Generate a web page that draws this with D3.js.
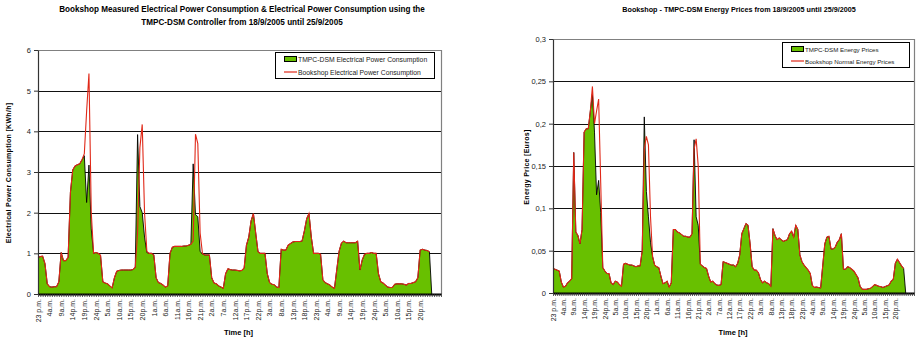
<!DOCTYPE html>
<html>
<head>
<meta charset="utf-8">
<script src="https://cdn.jsdelivr.net/npm/d3@7"></script>
<style>
  body { margin: 0; background: #fff; }
  svg { display: block; font-family: "Liberation Sans", Arial, sans-serif; }
</style>
</head>
<body>
<div id="chart"></div>
<script>
// hour labels (every 5th hour)
var hourLabels = ["23 p.m.", "4a.m.", "9a.m.", "14p.m.", "19p.m.", "24p.m.", "5a.m.", "10a.m.", "15p.m.", "20p.m.",
  "1a.m.", "6a.m.", "11a.m.", "16p.m.", "21p.m.", "2a.m.", "7a.m.", "12a.m.", "17p.m.", "22p.m.",
  "3a.m.", "8a.m.", "13p.m.", "18p.m.", "23p.m.", "4a.m.", "9a.m.", "14p.m.", "19p.m.", "24p.m.",
  "5a.m.", "10a.m.", "15p.m.", "20p.m."]

// Power consumption [KWh/h]
var tmpcPower = [0.9, 0.92, 0.93, 0.75, 0.25, 0.18, 0.17, 0.18, 0.18, 0.3,
  1.02, 0.82, 0.82, 0.9, 2.5, 3.05, 3.15, 3.18, 3.2, 3.3,
  3.4, 2.25, 3.17, 1.6, 1.0, 1.02, 1.0, 0.95, 0.3, 0.27,
  0.25, 0.2, 0.15, 0.4, 0.56, 0.58, 0.59, 0.59, 0.59, 0.59,
  0.59, 0.6, 0.66, 3.92, 2.15, 2.0, 1.4, 1.02, 1.0, 1.0,
  0.96, 0.4, 0.28, 0.26, 0.22, 0.17, 0.2, 1.0, 1.15, 1.17,
  1.17, 1.17, 1.17, 1.18, 1.18, 1.2, 1.22, 3.2, 1.95, 1.9,
  1.05, 0.98, 0.96, 0.96, 0.96, 0.4, 0.27, 0.25, 0.2, 0.17,
  0.14, 0.5, 0.62, 0.6, 0.59, 0.59, 0.58, 0.57, 0.58, 0.64,
  1.2, 1.4, 1.8, 1.98, 1.5, 1.04, 1.0, 1.0, 1.0, 0.5,
  0.28, 0.24, 0.23, 0.17, 0.16, 1.1, 1.08, 1.08, 1.2, 1.24,
  1.28, 1.29, 1.29, 1.29, 1.3, 1.55, 1.85, 1.98, 1.4, 1.0,
  1.0, 1.0, 0.98, 0.35, 0.28, 0.25, 0.22, 0.17, 0.14, 0.6,
  1.05, 1.25, 1.3, 1.26, 1.26, 1.26, 1.26, 1.26, 1.3, 0.59,
  0.84, 0.98, 1.0, 1.0, 1.02, 1.0, 1.0, 0.5, 0.3, 0.27,
  0.22, 0.17, 0.16, 0.16, 0.24, 0.25, 0.25, 0.25, 0.24, 0.22,
  0.26, 0.26, 0.28, 0.3, 0.4, 1.08, 1.1, 1.08, 1.07, 1.04,
  0]
var bookshopPower = [0.9, 0.92, 0.93, 0.75, 0.25, 0.18, 0.17, 0.18, 0.18, 0.3,
  1.02, 0.82, 0.82, 0.9, 2.5, 3.05, 3.15, 3.18, 3.2, 3.3,
  3.45, 4.5, 5.42, 2.0, 1.0, 1.02, 1.0, 0.95, 0.3, 0.27,
  0.25, 0.2, 0.15, 0.4, 0.56, 0.58, 0.59, 0.59, 0.59, 0.59,
  0.59, 0.6, 0.66, 1.5, 3.6, 4.17, 2.0, 1.05, 1.0, 1.0,
  0.96, 0.4, 0.28, 0.26, 0.22, 0.17, 0.2, 1.0, 1.15, 1.17,
  1.17, 1.17, 1.17, 1.18, 1.18, 1.2, 1.22, 1.3, 3.93, 3.7,
  1.5, 1.0, 0.96, 0.96, 0.96, 0.4, 0.27, 0.25, 0.2, 0.17,
  0.14, 0.5, 0.62, 0.6, 0.59, 0.59, 0.58, 0.57, 0.58, 0.64,
  1.2, 1.4, 1.8, 1.98, 1.5, 1.04, 1.0, 1.0, 1.0, 0.5,
  0.28, 0.24, 0.23, 0.17, 0.16, 1.1, 1.08, 1.08, 1.2, 1.24,
  1.28, 1.29, 1.29, 1.29, 1.3, 1.55, 1.85, 1.98, 1.4, 1.0,
  1.0, 1.0, 0.98, 0.35, 0.28, 0.25, 0.22, 0.17, 0.14, 0.6,
  1.05, 1.25, 1.3, 1.26, 1.26, 1.26, 1.26, 1.26, 1.3, 0.59,
  0.84, 0.98, 1.0, 1.0, 1.02, 1.0, 1.0, 0.5, 0.3, 0.27,
  0.22, 0.17, 0.16, 0.16, 0.24, 0.25, 0.25, 0.25, 0.24, 0.22,
  0.26, 0.26, 0.28, 0.3, 0.4, 1.08, 1.1, 1.08, 1.07, 1.04]

// Energy prices [Euros]
var tmpcPrice = [0.029, 0.028, 0.027, 0.026, 0.013, 0.007, 0.008, 0.012, 0.014, 0.017,
  0.166, 0.072, 0.068, 0.058, 0.075, 0.19, 0.194, 0.194, 0.215, 0.235,
  0.19, 0.116, 0.133, 0.095, 0.03, 0.026, 0.023, 0.023, 0.012, 0.01,
  0.014, 0.013, 0.01, 0.008, 0.034, 0.035, 0.034, 0.033, 0.033, 0.032,
  0.031, 0.032, 0.032, 0.05, 0.208, 0.12, 0.09, 0.06, 0.043, 0.033,
  0.031, 0.03, 0.02, 0.011, 0.012, 0.014, 0.007, 0.012, 0.075, 0.075,
  0.072, 0.071, 0.069, 0.067, 0.067, 0.066, 0.066, 0.07, 0.181, 0.09,
  0.08, 0.034, 0.032, 0.03, 0.029, 0.02, 0.013, 0.014, 0.011, 0.0095,
  0.009, 0.01, 0.037, 0.036, 0.035, 0.034, 0.033, 0.033, 0.031, 0.035,
  0.045, 0.07, 0.076, 0.082, 0.08, 0.058, 0.031, 0.027, 0.027, 0.024,
  0.016, 0.012, 0.014, 0.012, 0.011, 0.008, 0.076, 0.068, 0.063, 0.065,
  0.063, 0.061, 0.062, 0.063, 0.07, 0.073, 0.066, 0.08, 0.075, 0.045,
  0.037, 0.033, 0.03, 0.027, 0.023, 0.009, 0.0066, 0.007, 0.0064, 0.006,
  0.032, 0.058, 0.066, 0.067, 0.052, 0.052, 0.054, 0.06, 0.063, 0.07,
  0.028, 0.028, 0.031, 0.03, 0.028, 0.026, 0.022, 0.018, 0.008, 0.0045,
  0.0043, 0.0043, 0.005, 0.0055, 0.0075, 0.0098, 0.009, 0.008, 0.0075, 0.0065,
  0.0075, 0.0085, 0.0095, 0.014, 0.016, 0.035, 0.04, 0.036, 0.032, 0.029,
  0]
var bookshopPrice = [0.029, 0.028, 0.027, 0.026, 0.013, 0.007, 0.008, 0.012, 0.014, 0.017,
  0.166, 0.072, 0.068, 0.058, 0.075, 0.19, 0.194, 0.194, 0.215, 0.244,
  0.2, 0.215, 0.229, 0.13, 0.03, 0.026, 0.023, 0.023, 0.012, 0.01,
  0.014, 0.013, 0.01, 0.008, 0.034, 0.035, 0.034, 0.033, 0.033, 0.032,
  0.031, 0.032, 0.032, 0.05, 0.17, 0.185, 0.175, 0.09, 0.043, 0.033,
  0.031, 0.03, 0.02, 0.011, 0.012, 0.014, 0.007, 0.012, 0.075, 0.075,
  0.072, 0.071, 0.069, 0.067, 0.067, 0.066, 0.066, 0.07, 0.17, 0.182,
  0.15, 0.034, 0.032, 0.03, 0.029, 0.02, 0.013, 0.014, 0.011, 0.0095,
  0.009, 0.01, 0.037, 0.036, 0.035, 0.034, 0.033, 0.033, 0.031, 0.035,
  0.045, 0.07, 0.076, 0.082, 0.08, 0.058, 0.031, 0.027, 0.027, 0.024,
  0.016, 0.012, 0.014, 0.012, 0.011, 0.008, 0.076, 0.068, 0.063, 0.065,
  0.063, 0.061, 0.062, 0.063, 0.07, 0.073, 0.066, 0.08, 0.075, 0.045,
  0.037, 0.033, 0.03, 0.027, 0.023, 0.009, 0.0066, 0.007, 0.0064, 0.006,
  0.032, 0.058, 0.066, 0.067, 0.052, 0.052, 0.054, 0.06, 0.063, 0.07,
  0.028, 0.028, 0.031, 0.03, 0.028, 0.026, 0.022, 0.018, 0.008, 0.0045,
  0.0043, 0.0043, 0.005, 0.0055, 0.0075, 0.0098, 0.009, 0.008, 0.0075, 0.0065,
  0.0075, 0.0085, 0.0095, 0.014, 0.016, 0.035, 0.04, 0.036, 0.032, 0.029]

var powerTicks = [0, 1, 2, 3, 4, 5, 6]
var powerTickLabels = ["0", "1", "2", "3", "4", "5", "6"]
var priceTicks = [0, 0.05, 0.1, 0.15, 0.2, 0.25, 0.3]
var priceTickLabels = ["0", "0,05", "0,1", "0,15", "0,2", "0,25", "0,3"]

var nCategories = 174
var green = "#68c000"
var red = "#e02818"

var svg = d3.select("#chart").append("svg")
  .attr("width", 916)
  .attr("height", 341)

function drawChart(cfg) {
  var g = svg.append("g")

  var x = d3.scaleLinear().domain([0, nCategories]).range([cfg.left, cfg.right])
  var y = d3.scaleLinear().domain([0, cfg.ticks[cfg.ticks.length - 1]]).range([cfg.bottom, cfg.top])

  // titles
  g.selectAll(".title").data(cfg.title).enter().append("text")
    .attr("x", cfg.titleX)
    .attr("y", function(d, i) { return cfg.titleY + i * 12.5 })
    .attr("text-anchor", "middle")
    .style("font-size", cfg.titleSize + "px")
    .style("font-weight", "bold")
    .text(function(d) { return d })

  // grid lines
  g.selectAll(".grid").data(cfg.ticks.slice(1, -1)).enter().append("line")
    .attr("x1", cfg.left).attr("x2", cfg.right)
    .attr("y1", function(d) { return Math.round(y(d)) + 0.5 })
    .attr("y2", function(d) { return Math.round(y(d)) + 0.5 })
    .attr("stroke", "#111")
    .attr("stroke-width", 1)

  // plot border (top / right)
  g.append("path")
    .attr("d", "M" + cfg.left + "," + (cfg.top + 0.5) + "H" + (cfg.right + 0.5) + "V" + cfg.bottom)
    .attr("fill", "none")
    .attr("stroke", "#808080")
    .attr("stroke-width", 1.2)

  // green area
  var area = d3.area()
    .x(function(d, i) { return x(i) })
    .y0(y(0))
    .y1(function(d) { return y(d) })
  g.append("path")
    .datum(cfg.green)
    .attr("d", area)
    .attr("fill", green)

  var line = d3.line()
    .x(function(d, i) { return x(i) })
    .y(function(d) { return y(d) })
  g.append("path")
    .datum(cfg.green)
    .attr("d", line)
    .attr("fill", "none")
    .attr("stroke", "#000")
    .attr("stroke-width", 0.9)

  // red line
  g.append("path")
    .datum(cfg.red)
    .attr("d", line)
    .attr("fill", "none")
    .attr("stroke", red)
    .attr("stroke-width", 1.1)

  // y axis
  var yAxis = g.append("g")
    .attr("transform", "translate(" + cfg.left + ",0)")
    .call(d3.axisLeft(y).tickValues(cfg.ticks)
      .tickFormat(function(d, i) { return cfg.tickLabels[i] })
      .tickSize(4).tickSizeOuter(0))
  yAxis.select(".domain").attr("stroke", "#333").attr("stroke-width", 1.2)
  yAxis.selectAll("line").attr("stroke", "#333")
  yAxis.selectAll("text")
    .style("font-size", "7.5px")
    .style("font-family", "Liberation Sans, Arial, sans-serif")
    .attr("fill", "#222")

  // x axis
  var xAxis = g.append("g")
    .attr("transform", "translate(0," + cfg.bottom + ")")
    .call(d3.axisBottom(x).tickValues(d3.range(0, nCategories + 1))
      .tickFormat(function(d) {
        return d % 5 === 0 && d / 5 < hourLabels.length ? hourLabels[d / 5] : ""
      })
      .tickSize(3).tickSizeOuter(0))
  xAxis.select(".domain").attr("stroke", "#000").attr("stroke-width", 2)
  xAxis.selectAll("line").attr("stroke", "#333").attr("stroke-width", 0.8)
  xAxis.selectAll("text")
    .attr("transform", "rotate(-90)")
    .attr("text-anchor", "end")
    .attr("x", -5)
    .attr("y", 0)
    .attr("dy", "0.32em")
    .style("font-size", "7px")
    .style("font-family", "Liberation Sans, Arial, sans-serif")
    .attr("fill", "#222")

  // axis titles
  g.append("text")
    .attr("x", (cfg.left + cfg.right) / 2 + cfg.xTitleShift)
    .attr("y", 335)
    .attr("text-anchor", "middle")
    .style("font-size", "7.5px")
    .style("font-weight", "bold")
    .text("Time [h]")

  g.append("text")
    .attr("transform", "translate(" + cfg.yTitleX + "," + cfg.yTitleY + ") rotate(-90)")
    .attr("text-anchor", "middle")
    .style("font-size", "7px")
    .style("font-weight", "bold")
    .style("letter-spacing", "0.3px")
    .text(cfg.yTitle)

  // legend
  var lg = g.append("g").attr("transform", "translate(" + cfg.legend[0] + "," + cfg.legend[1] + ")")
  lg.append("rect")
    .attr("x", 0.5).attr("y", 0.5)
    .attr("width", cfg.legend[2]).attr("height", cfg.legend[3])
    .attr("fill", "#fff").attr("stroke", "#000").attr("stroke-width", 1)
  lg.append("rect")
    .attr("x", 9.5).attr("y", 4.5)
    .attr("width", 12).attr("height", 5)
    .attr("fill", green).attr("stroke", "#000").attr("stroke-width", 1)
  lg.append("line")
    .attr("x1", 9).attr("x2", 22)
    .attr("y1", cfg.legend[3] - 6).attr("y2", cfg.legend[3] - 6)
    .attr("stroke", red).attr("stroke-width", 1.2)
  lg.selectAll(".leg").data(cfg.legendText).enter().append("text")
    .attr("x", 23)
    .attr("y", function(d, i) { return i === 0 ? 10 : cfg.legend[3] - 3.5 })
    .style("font-size", cfg.legendSize + "px")
    .attr("fill", "#222")
    .text(function(d) { return d })
}

drawChart({
  left: 38, right: 441, top: 50, bottom: 294,
  ticks: powerTicks, tickLabels: powerTickLabels,
  green: tmpcPower, red: bookshopPower,
  title: ["Bookshop Measured Electrical Power Consumption & Electrical Power Consumption using the",
    "TMPC-DSM  Controller from 18/9/2005 until 25/9/2005"],
  titleX: 242, titleY: 12, titleSize: 8.15,
  xTitleShift: -1,
  yTitle: "Electrical Power Consumption [KWh/h]", yTitleX: 11, yTitleY: 173,
  legend: [275, 52, 159, 26], legendSize: 6.8,
  legendText: ["TMPC-DSM Electrical Power Consumption", "Bookshop Electrical Power Consumption"]
})

drawChart({
  left: 553, right: 914, top: 39, bottom: 293,
  ticks: priceTicks, tickLabels: priceTickLabels,
  green: tmpcPrice, red: bookshopPrice,
  title: ["Bookshop - TMPC-DSM Energy Prices from 18/9/2005 until 25/9/2005"],
  titleX: 739, titleY: 12, titleSize: 7.2,
  xTitleShift: -0.5,
  yTitle: "Energy Price [Euros]", yTitleX: 529, yTitleY: 167,
  legend: [782, 42, 127, 25], legendSize: 6.2,
  legendText: ["TMPC-DSM Energy Prices", "Bookshop Normal Energy Prices"]
})
</script>
</body>
</html>
